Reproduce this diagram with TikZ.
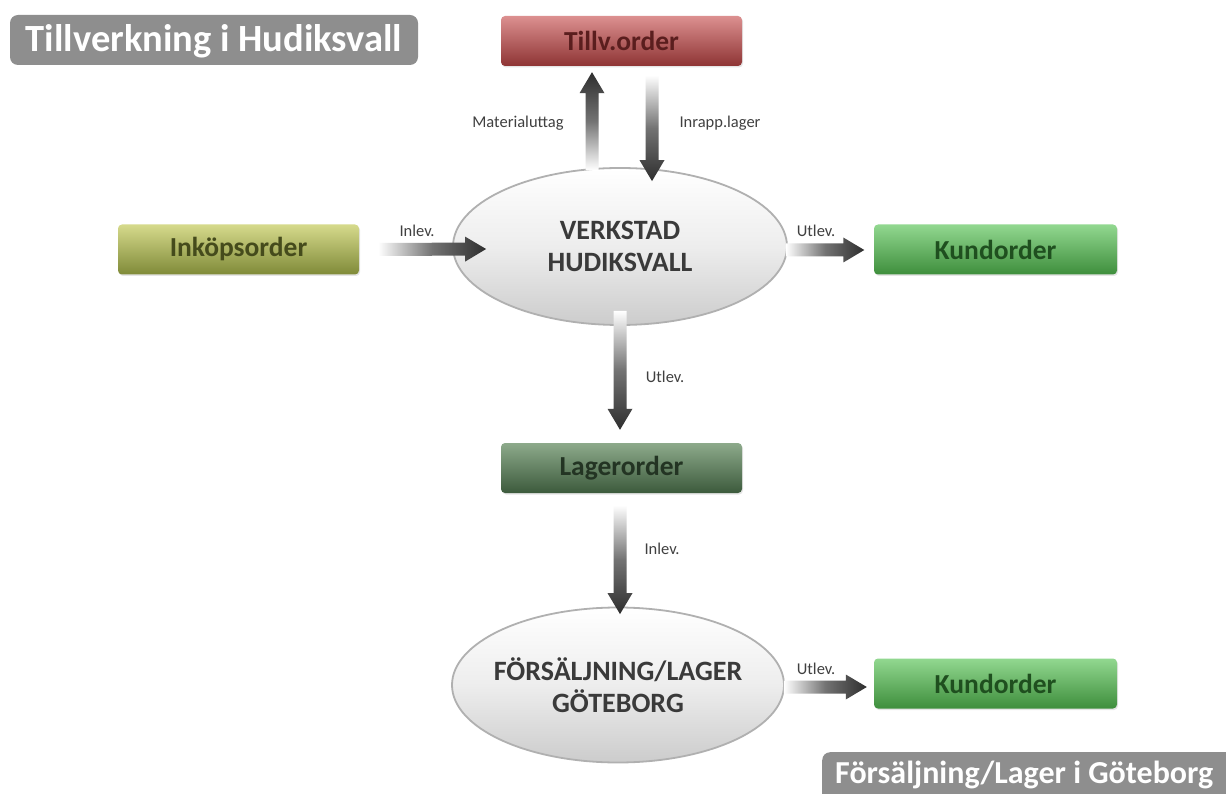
\documentclass[tikz,border=0pt]{standalone}
\usepackage{fontspec}
\setmainfont{Carlito}
\usetikzlibrary{calc,shadows,shapes.geometric}
\definecolor{adark}{HTML}{2E2E2E}
\definecolor{agray}{HTML}{B0B0B0}
\definecolor{capgray}{HTML}{8E8E8E}
\definecolor{redtop}{HTML}{DC9090}
\definecolor{redbot}{HTML}{8E3434}
\definecolor{redtxt}{HTML}{5A1E1E}
\definecolor{olitop}{HTML}{D6DA8C}
\definecolor{olibot}{HTML}{7F8A38}
\definecolor{olitxt}{HTML}{454B1C}
\definecolor{grntop}{HTML}{92D890}
\definecolor{grnbot}{HTML}{3E8E3C}
\definecolor{grntxt}{HTML}{1F4F1F}
\definecolor{dgrtop}{HTML}{8DAA8B}
\definecolor{dgrbot}{HTML}{3C5A3C}
\definecolor{dgrtxt}{HTML}{233423}
\definecolor{elltxt}{HTML}{3A3A3A}
\definecolor{lbltxt}{HTML}{404040}
\newcommand\fatarrow[3]{%
  \coordinate (fa-s) at (#2);
  \coordinate (fa-t) at (#3);
  \coordinate (fa-h) at ($(fa-t)!21pt!(fa-s)$);
  \shade[#1] ($(fa-s)!6.5pt!90:(fa-t)$) -- ($(fa-h)!6.5pt!90:(fa-t)$)
     -- ($(fa-h)!12.5pt!90:(fa-t)$) -- (fa-t) -- ($(fa-h)!12.5pt!-90:(fa-t)$)
     -- ($(fa-h)!6.5pt!-90:(fa-t)$) -- ($(fa-s)!6.5pt!-90:(fa-t)$) -- cycle;}
\tikzset{
  orderbox/.style={rectangle, rounded corners=4pt, minimum width=241pt,
    minimum height=50pt, inner sep=0pt, font=\fontsize{27.5}{29}\selectfont\bfseries,
    drop shadow={opacity=0.2, shadow xshift=1pt, shadow yshift=-1.5pt}},
  place/.style={ellipse, draw=agray, line width=1.8pt, inner sep=0pt,
    top color=white, bottom color=black!20, middle color=black!7},
  placetext/.style={text=elltxt, align=center, inner sep=0pt,
    font=\fontsize{28}{32}\selectfont\bfseries},
  caption/.style={rectangle, rounded corners=8pt, fill=capgray, inner sep=0pt},
  captext/.style={text=white, inner sep=0pt, font=\fontsize{38.5}{40}\selectfont\bfseries},
  lbl/.style={text=lbltxt, font=\fontsize{16.5}{18}\selectfont, inner sep=0pt},
  downarr/.style={top color=white, bottom color=adark, middle color=black!55},
  uparr/.style={bottom color=white, top color=adark, middle color=black!55},
  rightarr/.style={left color=white, right color=adark, middle color=black!55},
}
\begin{document}
\begin{tikzpicture}[x=1pt,y=-1pt]
\useasboundingbox (0,0) rectangle (1226,794);
\fill[white] (0,0) rectangle (1226,794);

% captions
\node[caption, minimum width=408pt, minimum height=50pt] (capA) at (214,40) {};
\node[captext] (capAt) at (214,41) {Tillverkning i Hudiksvall};
\node[caption, minimum width=414pt, minimum height=52pt, anchor=north west] (capB) at (822,752) {};
\node[captext, font=\fontsize{32}{34}\selectfont\bfseries, anchor=west] (capBt) at (835,775) {Försäljning/Lager i Göteborg};

% boxes
\node[orderbox, top color=redtop, bottom color=redbot, text=redtxt] (tillv) at (621.5,41) {Tillv.order};
\node[orderbox, top color=olitop, bottom color=olibot, text=olitxt] (inkop) at (238.5,249.5) {Inköpsorder};
\node[orderbox, minimum width=243pt, top color=grntop, bottom color=grnbot, text=grntxt] (kund1) at (995.5,249.5) {Kundorder};
\node[orderbox, top color=dgrtop, bottom color=dgrbot, text=dgrtxt] (lager) at (621.5,468) {Lagerorder};
\node[orderbox, minimum width=243pt, top color=grntop, bottom color=grnbot, text=grntxt] (kund2) at (995.5,683.5) {Kundorder};

% places
\node[place, minimum width=334pt, minimum height=157pt] (verk) at (620,246.5) {};
\node[placetext] (verkt) at (verk.center) {VERKSTAD\\HUDIKSVALL};
\node[place, minimum width=332pt, minimum height=155pt] (fors) at (618,685) {};
\node[placetext] (forst) at (fors.center) {FÖRSÄLJNING/LAGER\\GÖTEBORG};

% connectors
\fatarrow{uparr}{$(verk.north)+(-28,3)$}{$(tillv.south)+(-29.5,6)$}
\fatarrow{downarr}{$(tillv.south)+(30.5,9)$}{$(verk.north)+(32,14)$}
\fatarrow{rightarr}{$(inkop.east)+(19,0)$}{$(verk.west)+(34,2.5)$}
\fatarrow{rightarr}{$(verk.east)+(-2,3.5)$}{$(kund1.west)+(-9.5,0.5)$}
\fatarrow{downarr}{$(verk.south)+(0,-15)$}{$(lager.north)+(-1.5,-13)$}
\fatarrow{downarr}{$(lager.south)+(-1.5,12)$}{$(fors.north)+(2,7.5)$}
\fatarrow{rightarr}{$(fors.east)+(-1,2)$}{$(kund2.west)+(-7,3.5)$}

% labels
\node[lbl] (l1) at (518,123) {Materialuttag};
\node[lbl] (l2) at (720,123) {Inrapp.lager};
\node[lbl] (l3) at (417,231) {Inlev.};
\node[lbl] (l4) at (816,231) {Utlev.};
\node[lbl] (l5) at (665,377) {Utlev.};
\node[lbl] (l6) at (662,549) {Inlev.};
\node[lbl] (l7) at (816,669) {Utlev.};
\end{tikzpicture}
\end{document}
